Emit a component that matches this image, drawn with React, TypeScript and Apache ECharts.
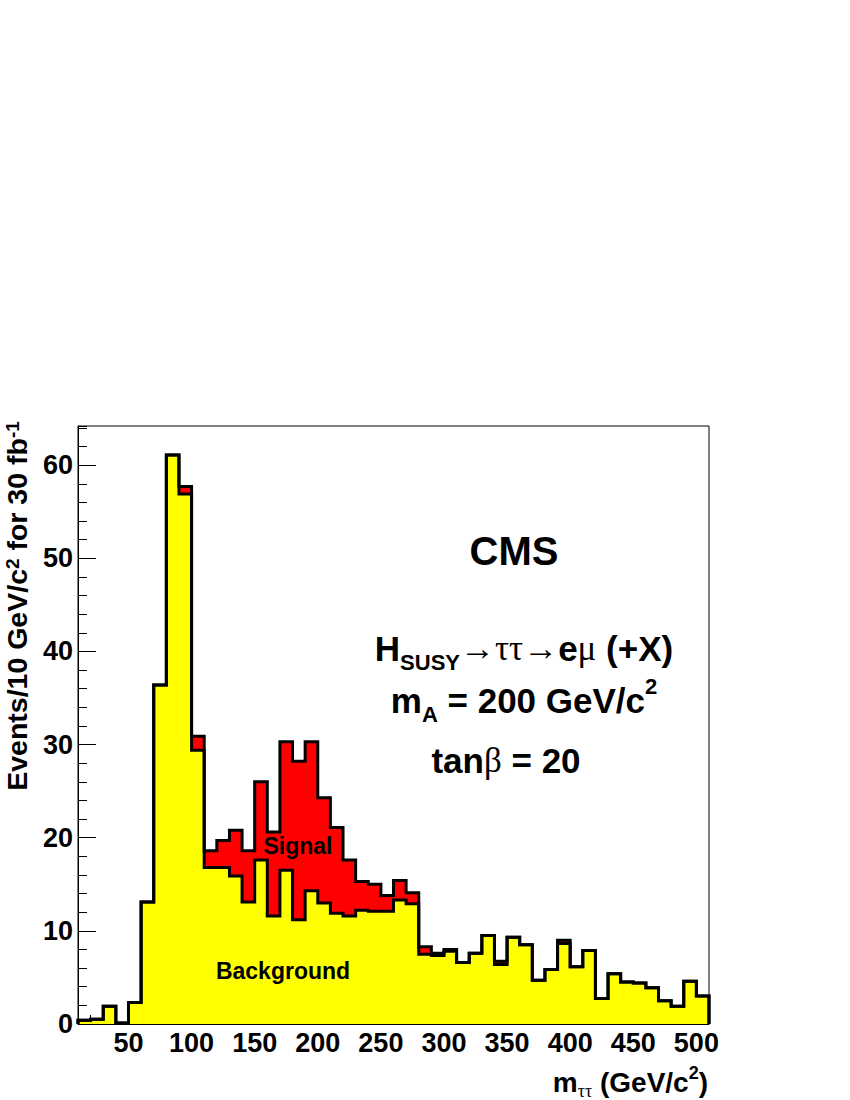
import React, { useEffect, useRef } from 'react';
import * as echarts from 'echarts';

// Histogram bins (lower edges, GeV/c^2), bin width 10
const binLow = [10, 20, 30, 40, 50, 60, 70, 80, 90, 100, 110, 120, 130, 140, 150, 160, 170, 180, 190, 200,
  210, 220, 230, 240, 250, 260, 270, 280, 290, 300, 310, 320, 330, 340, 350, 360, 370, 380, 390, 400,
  410, 420, 430, 440, 450, 460, 470, 480, 490, 500];
const binWidth = 10;

// Signal + background (red histogram top)
const totalEvents = [0.4, 0.5, 1.9, 0.1, 2.3, 13.1, 36.4, 61.1, 57.7, 30.9, 18.6, 19.7, 20.8, 18.6, 26.0, 20.6, 30.3, 28.2, 30.3, 24.3,
  21.1, 17.6, 15.3, 15.0, 13.8, 15.4, 14.1, 8.3, 7.6, 8.0, 6.6, 7.6, 9.5, 6.75, 9.3, 8.5, 4.7, 5.85, 9.0, 6.15,
  7.9, 2.75, 5.4, 4.5, 4.4, 3.9, 2.5, 1.9, 4.6, 3.0];

// Background only (yellow histogram)
const backgroundEvents = [0.4, 0.5, 1.9, 0.1, 2.3, 13.1, 36.4, 61.1, 56.9, 29.4, 16.8, 16.8, 15.9, 13.1, 17.6, 11.6, 16.5, 11.2, 14.3, 13.0,
  11.9, 11.6, 12.2, 12.1, 12.1, 13.3, 12.9, 7.5, 7.35, 7.8, 6.6, 7.6, 9.5, 6.4, 9.3, 8.5, 4.7, 5.85, 8.65, 6.15,
  7.9, 2.75, 5.4, 4.5, 4.4, 3.9, 2.5, 1.9, 4.6, 3.0];

const xMajorTicks = [50, 100, 150, 200, 250, 300, 350, 400, 450, 500];
const yMajorTicks = [0, 10, 20, 30, 40, 50, 60];

const SANS = 'Liberation Sans, Arial, Helvetica, sans-serif';
const SERIF = 'Liberation Serif, DejaVu Serif, Times New Roman, serif';

function stepPoints(lows: number[], vals: number[], width: number): number[][] {
  const pts: number[][] = [[lows[0], 0]];
  lows.forEach((lo, i) => pts.push([lo, vals[i]]));
  const last = lows[lows.length - 1] + width;
  pts.push([last, vals[vals.length - 1]]);
  pts.push([last, 0]);
  return pts;
}

export default function App() {
  const ref = useRef<HTMLDivElement>(null);

  useEffect(() => {
    if (!ref.current) return;
    const chart = echarts.init(ref.current, undefined, { renderer: 'svg' });

    const tickLabel = { color: '#000', fontSize: 27, fontWeight: 'bold' as const, fontFamily: SANS };

    const big = (size: number, lh: number) => ({ fontSize: size, fontWeight: 'bold', fontFamily: SANS, lineHeight: lh, fill: '#000' });

    const option: any = {
      animation: false,
      backgroundColor: '#fff',
      grid: { left: 78, top: 426, width: 631, height: 598, show: true, borderColor: '#000', borderWidth: 1, backgroundColor: '#fff', containLabel: false },
      xAxis: [
        {
          type: 'value', position: 'bottom', min: 10, max: 510, interval: 10,
          axisLine: { show: true, onZero: false, lineStyle: { color: '#000', width: 1 } },
          axisTick: { show: true, inside: true, length: 18, customValues: xMajorTicks, lineStyle: { color: '#000', width: 1 } },
          axisLabel: { ...tickLabel, margin: 5, customValues: xMajorTicks },
          splitLine: { show: false },
        },
        {
          type: 'value', position: 'bottom', min: 10, max: 510, interval: 10,
          axisLine: { show: false, onZero: false },
          axisTick: { show: true, inside: true, length: 9, lineStyle: { color: '#000', width: 1 } },
          axisLabel: { show: false },
          splitLine: { show: false },
        },
      ],
      yAxis: [
        {
          type: 'value', position: 'left', min: 0, max: 64.2, interval: 10,
          axisLine: { show: true, onZero: false, lineStyle: { color: '#000', width: 1 } },
          axisTick: { show: true, inside: true, length: 18, customValues: yMajorTicks, lineStyle: { color: '#000', width: 1 } },
          axisLabel: { ...tickLabel, margin: 5, customValues: yMajorTicks },
          splitLine: { show: false },
        },
        {
          type: 'value', position: 'left', min: 0, max: 64.2, interval: 2,
          axisLine: { show: false, onZero: false },
          axisTick: { show: true, inside: true, length: 9, lineStyle: { color: '#000', width: 1 } },
          axisLabel: { show: false },
          splitLine: { show: false },
        },
      ],
      series: [
        {
          name: 'Signal', type: 'line', step: 'end', xAxisIndex: 0, yAxisIndex: 0,
          data: stepPoints(binLow, totalEvents, binWidth),
          showSymbol: false, symbol: 'none',
          lineStyle: { color: '#000', width: 3, join: 'miter' },
          areaStyle: { color: '#ff0000', opacity: 1 },
          silent: true,
        },
        {
          name: 'Background', type: 'line', step: 'end', xAxisIndex: 0, yAxisIndex: 0,
          data: stepPoints(binLow, backgroundEvents, binWidth),
          showSymbol: false, symbol: 'none',
          lineStyle: { color: '#000', width: 3, join: 'miter' },
          areaStyle: { color: '#ffff00', opacity: 1 },
          silent: true,
        },
      ],
      graphic: [
        {
          type: 'text', x: 514, y: 551, z: 100,
          style: { text: 'CMS', fontSize: 40, fontWeight: 'bold', fontFamily: SANS, fill: '#000', textAlign: 'center', textVerticalAlign: 'middle' },
        },
        {
          type: 'text', x: 524, y: 641 + 7, z: 100,
          style: {
            text: '{b|H}{sub|SUSY}{sym|→ττ→}{b|e}{sym|μ}{b| (+X)}',
            textAlign: 'center', textVerticalAlign: 'middle', fill: '#000',
            rich: {
              b: big(35, 50),
              sub: { fontSize: 22, fontWeight: 'bold', fontFamily: SANS, lineHeight: 16, verticalAlign: 'bottom', fill: '#000' },
              sym: { fontSize: 35, fontFamily: SERIF, lineHeight: 50, fill: '#000' },
            },
          },
        },
        {
          type: 'text', x: 524, y: 692 + 8, z: 100,
          style: {
            text: '{b|m}{sub|A}{b| = 200 GeV/c}{sup|2}',
            textAlign: 'center', textVerticalAlign: 'middle', fill: '#000',
            rich: {
              b: big(35, 50),
              sub: { fontSize: 22, fontWeight: 'bold', fontFamily: SANS, lineHeight: 8, verticalAlign: 'bottom', fill: '#000' },
              sup: { fontSize: 22, fontWeight: 'bold', fontFamily: SANS, lineHeight: 42, verticalAlign: 'top', fill: '#000' },
            },
          },
        },
        {
          type: 'text', x: 506, y: 760, z: 100,
          style: {
            text: '{b|tan}{sym|β}{b| = 20}',
            textAlign: 'center', textVerticalAlign: 'middle', fill: '#000',
            rich: {
              b: big(35, 50),
              sym: { fontSize: 35, fontFamily: SERIF, lineHeight: 50, fill: '#000' },
            },
          },
        },
        {
          type: 'text', x: 298, y: 846, z: 100,
          style: { text: 'Signal', fontSize: 23, fontWeight: 'bold', fontFamily: SANS, fill: '#000', textAlign: 'center', textVerticalAlign: 'middle' },
        },
        {
          type: 'text', x: 283, y: 971, z: 100,
          style: { text: 'Background', fontSize: 23, fontWeight: 'bold', fontFamily: SANS, fill: '#000', textAlign: 'center', textVerticalAlign: 'middle' },
        },
        {
          type: 'text', x: 17, y: 606, rotation: Math.PI / 2, z: 100,
          style: {
            text: '{b|Events/10 GeV/c}{sup|2}{b| for 30 fb}{sup|-1}',
            textAlign: 'center', textVerticalAlign: 'middle', fill: '#000',
            rich: {
              b: big(28.5, 28),
              sup: { fontSize: 19, fontWeight: 'bold', fontFamily: SANS, lineHeight: 12, verticalAlign: 'top', fill: '#000' },
            },
          },
        },
        {
          type: 'text', x: 708, y: 1082, z: 100,
          style: {
            text: '{b|m}{sub|ττ}{b| (GeV/c}{sup|2}{b|)}',
            textAlign: 'right', textVerticalAlign: 'middle', fill: '#000',
            rich: {
              b: big(28, 36),
              sub: { fontSize: 18, fontFamily: SERIF, lineHeight: 14, verticalAlign: 'bottom', fill: '#000' },
              sup: { fontSize: 18, fontWeight: 'bold', fontFamily: SANS, lineHeight: 18, verticalAlign: 'top', fill: '#000' },
            },
          },
        },
      ],
    };

    chart.setOption(option);
    return () => chart.dispose();
  }, []);

  return <div ref={ref} style={{ position: 'absolute', left: 0, top: 0, width: 850, height: 1100 }} />;
}
